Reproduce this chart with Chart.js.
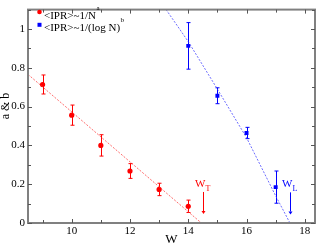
<!DOCTYPE html>
<html>
<head>
<meta charset="utf-8">
<script src="https://cdn.jsdelivr.net/npm/chart.js@4.4.1/dist/chart.umd.min.js"></script>
<style>
html, body { margin: 0; padding: 0; background: #fff; }
#wrap { width: 319px; height: 247px; position: relative; }
</style>
</head>
<body>
<div id="wrap"><canvas id="iprChart"></canvas></div>
<script>
// values
const redW = [9, 10, 11, 12, 13, 14];
const redA = [0.714, 0.556, 0.40, 0.268, 0.173, 0.086];
const redErr = [0.049, 0.052, 0.055, 0.038, 0.032, 0.032];
const blueW = [14, 15, 16, 17];
const blueB = [0.913, 0.656, 0.464, 0.185];
const blueErr = [0.12, 0.041, 0.029, 0.083];

// fit lines
const redFitW = [8.5, 14.45];
const redFitA = [0.766, 0];
const blueFitW = [13.24, 14, 15, 16, 17, 17.49];
const blueFitB = [1.10, 0.935, 0.69, 0.44, 0.14, 0];

// W_T and W_L markers
const markW = [14.5, 17.5];
const markTop = [0.16, 0.158];
const markBottom = [0.046, 0.044];
const markSub = ["T", "L"];

const xTicks = [10, 12, 14, 16, 18];
const yTicks = [0, 0.2, 0.4, 0.6, 0.8, 1];
const xMinor = [9, 10, 11, 12, 13, 14, 15, 16, 17, 18];
const yMinor = [0, 0.1, 0.2, 0.3, 0.4, 0.5, 0.6, 0.7, 0.8, 0.9, 1.0, 1.1];
const seriesNames = [["<IPR>~1/N", "a"], ["<IPR>~1/(log N)", "b"]];
const yTitle = "a & b";

const RED = "#ff0000";
const BLUE = "#0000ff";
const SERIF = "'Liberation Serif', 'DejaVu Serif', serif";

function pts(xs, ys) {
    return xs.map((x, i) => ({ x: x, y: ys[i] }));
}

// error bars, markers, legend and frame drawn on top
const extras = {
    id: "extras",
    beforeDatasetsDraw(chart) {
        const ctx = chart.ctx;
        const xs = chart.scales.x, ys = chart.scales.y;
        ctx.save();
        ctx.lineWidth = 1;
        const bars = [[redW, redA, redErr, RED], [blueW, blueB, blueErr, BLUE]];
        bars.forEach(([w, v, e, col]) => {
            ctx.strokeStyle = col;
            w.forEach((x, i) => {
                const px = Math.round(xs.getPixelForValue(x)) + 0.5;
                const top = ys.getPixelForValue(v[i] + e[i]);
                const bot = ys.getPixelForValue(v[i] - e[i]);
                ctx.beginPath();
                ctx.moveTo(px, top); ctx.lineTo(px, bot);
                ctx.moveTo(px - 2, top); ctx.lineTo(px + 2, top);
                ctx.moveTo(px - 2, bot); ctx.lineTo(px + 2, bot);
                ctx.stroke();
            });
        });
        ctx.restore();
    },
    afterDraw(chart) {
        const ctx = chart.ctx;
        const xs = chart.scales.x, ys = chart.scales.y;
        const a = chart.chartArea;
        ctx.save();

        // frame
        ctx.strokeStyle = "#808080";
        ctx.lineWidth = 2;
        ctx.strokeRect(a.left, a.top, a.right - a.left, a.bottom - a.top);

        // inward ticks on all four sides
        ctx.strokeStyle = "#555";
        ctx.lineWidth = 1;
        ctx.beginPath();
        xMinor.forEach(v => {
            const len = xTicks.includes(v) ? 4 : 3;
            const px = Math.round(xs.getPixelForValue(v)) + 0.5;
            ctx.moveTo(px, a.bottom); ctx.lineTo(px, a.bottom - len);
            ctx.moveTo(px, a.top); ctx.lineTo(px, a.top + len);
        });
        yMinor.forEach(v => {
            const len = yTicks.some(t => Math.abs(t - v) < 1e-6) ? 4 : 3;
            const py = Math.round(ys.getPixelForValue(v)) + 0.5;
            ctx.moveTo(a.left, py); ctx.lineTo(a.left + len, py);
            ctx.moveTo(a.right, py); ctx.lineTo(a.right - len, py);
        });
        ctx.stroke();

        // y axis title
        ctx.save();
        ctx.translate(6, 106);
        ctx.rotate(-Math.PI / 2);
        ctx.fillStyle = "#000";
        ctx.font = "12px " + SERIF;
        ctx.textAlign = "center";
        ctx.textBaseline = "middle";
        ctx.fillText(yTitle, 0, 0);
        ctx.restore();

        // W_T / W_L arrows
        [RED, BLUE].forEach((col, i) => {
            const px = Math.round(xs.getPixelForValue(markW[i])) + 0.5;
            const top = ys.getPixelForValue(markTop[i]);
            const bot = ys.getPixelForValue(markBottom[i]);
            ctx.strokeStyle = col;
            ctx.fillStyle = col;
            ctx.lineWidth = 1;
            ctx.beginPath();
            ctx.moveTo(px, top); ctx.lineTo(px, bot - 3);
            ctx.stroke();
            ctx.beginPath();
            ctx.moveTo(px - 2, bot - 3); ctx.lineTo(px + 2, bot - 3); ctx.lineTo(px, bot);
            ctx.closePath();
            ctx.fill();
            ctx.textBaseline = "alphabetic";
            ctx.font = "11px " + SERIF;
            ctx.textAlign = "right";
            ctx.fillText("W", px + 2, top - 5);
            ctx.font = "8px " + SERIF;
            ctx.textAlign = "left";
            ctx.fillText(markSub[i], px + 2, top - 1);
        });

        // legend
        ctx.textAlign = "left";
        ctx.textBaseline = "alphabetic";
        [RED, BLUE].forEach((col, i) => {
            const y = 12 + i * 12.8;
            ctx.fillStyle = col;
            if (i === 0) {
                ctx.beginPath();
                ctx.arc(39.5, y, 2.3, 0, Math.PI * 2);
                ctx.fill();
            } else {
                ctx.fillRect(37.5, y - 2, 4, 4);
            }
            ctx.fillStyle = "#000";
            ctx.font = "11px " + SERIF;
            ctx.fillText(seriesNames[i][0], 44, y + 6.5);
            const w = ctx.measureText(seriesNames[i][0]).width;
            ctx.font = "7px " + SERIF;
            ctx.fillText(seriesNames[i][1], 44 + w + 0.5, y - 2.5);
        });
        ctx.restore();
    }
};

const ctx = document.getElementById("iprChart").getContext("2d");
const iprChart = new Chart(ctx, {
    type: "scatter",
    data: {
        datasets: [
            {
                label: "red fit",
                data: pts(redFitW, redFitA),
                showLine: true,
                borderColor: "rgba(255, 60, 60, 0.75)",
                borderWidth: 1,
                borderDash: [2, 1.5],
                pointRadius: 0
            },
            {
                label: "blue fit",
                data: pts(blueFitW, blueFitB),
                showLine: true,
                borderColor: "rgba(60, 60, 255, 0.75)",
                borderWidth: 1,
                borderDash: [2, 1.5],
                pointRadius: 0
            },
            {
                label: seriesNames[0].join(""),
                data: pts(redW, redA),
                backgroundColor: RED,
                borderColor: RED,
                pointStyle: "circle",
                pointRadius: 2.6,
                borderWidth: 0
            },
            {
                label: seriesNames[1].join(""),
                data: pts(blueW, blueB),
                backgroundColor: BLUE,
                borderColor: BLUE,
                pointStyle: "rect",
                pointRadius: 2.8,
                borderWidth: 0
            }
        ]
    },
    options: {
        responsive: true,
        maintainAspectRatio: false,
        animation: false,
        layout: { padding: { top: 1, right: 2, left: 0, bottom: 0 } },
        plugins: {
            legend: { display: false },
            tooltip: { enabled: false }
        },
        scales: {
            x: {
                type: "linear",
                min: 8.5,
                max: 18.35,
                grid: { display: false, drawTicks: false },
                border: { display: false },
                afterBuildTicks: s => { s.ticks = xTicks.map(v => ({ value: v })); },
                afterFit: s => { s.height = 24; },
                ticks: {
                    color: "#000",
                    padding: 2,
                    maxRotation: 0,
                    font: { family: SERIF, size: 11 }
                },
                title: {
                    display: true,
                    text: "W",
                    color: "#000",
                    padding: 0,
                    font: { family: SERIF, size: 13 }
                }
            },
            y: {
                type: "linear",
                min: 0,
                max: 1.1,
                grid: { display: false, drawTicks: false },
                border: { display: false },
                afterBuildTicks: s => { s.ticks = yTicks.map(v => ({ value: v })); },
                afterFit: s => { s.width = 28; },
                ticks: {
                    color: "#000",
                    padding: 3,
                    font: { family: SERIF, size: 11 },
                    callback: v => String(+v.toFixed(1))
                },
                title: { display: false }
            }
        }
    },
    plugins: [extras]
});
</script>
</body>
</html>
